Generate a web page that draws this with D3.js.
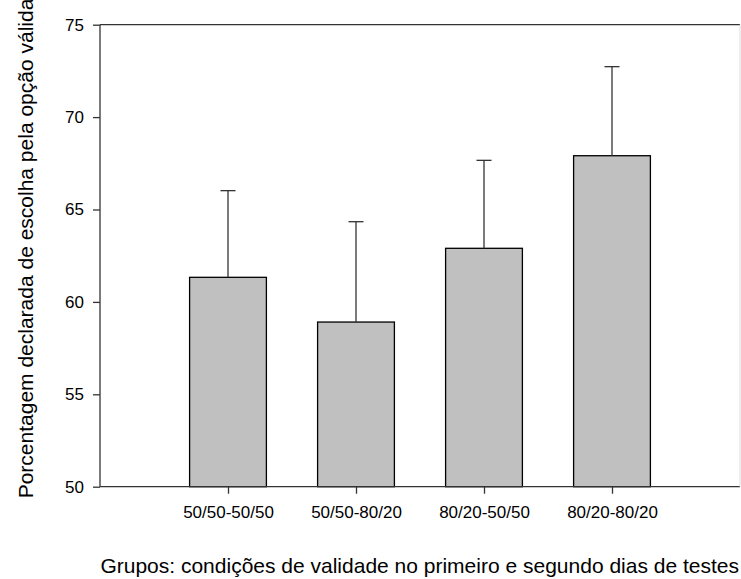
<!DOCTYPE html>
<html><head><meta charset="utf-8">
<script src="https://cdn.jsdelivr.net/npm/d3@7"></script>
<style>body{margin:0;background:#fff}svg{display:block}text{font-family:"Liberation Sans",Arial,sans-serif;fill:#000}</style>
</head><body>
<svg id="c" width="741" height="579"></svg>
<script>
const categories = ["50/50-50/50","50/50-80/20","80/20-50/50","80/20-80/20"];
const means = [61.33, 58.91, 62.90, 67.91];
const errors = [4.69, 5.43, 4.76, 4.82];
const yTicks = [50,55,60,65,70,75];
const xTitle = "Grupos: condições de validade no primeiro e segundo dias de testes";
const yTitle = "Porcentagem declarada de escolha pela opção válida";

const svg = d3.select("#c");
const L=100, R=740, T=24.7, B=486.7;
const x = d3.scaleLinear().domain([0,5]).range([L,R]);
const y = d3.scaleLinear().domain([50,75]).range([B,T]);
const bw = (x(1)-x(0))*0.6;
const lineCol = "#333";

// bars
svg.selectAll("rect.bar").data(means).enter().append("rect")
  .attr("x",(d,i)=>x(i+1)-bw/2).attr("width",bw)
  .attr("y",d=>y(d)).attr("height",d=>y(50)-y(d))
  .attr("fill","#c0c0c0").attr("stroke","#000").attr("stroke-width",1.3);

// error bars
const g = svg.append("g").attr("stroke",lineCol).attr("stroke-width",1.3);
means.forEach((m,i)=>{
  const cx = x(i+1);
  g.append("line").attr("x1",cx).attr("x2",cx).attr("y1",y(m)).attr("y2",y(m+errors[i]));
  g.append("line").attr("x1",cx-7.5).attr("x2",cx+7.5).attr("y1",y(m+errors[i])).attr("y2",y(m+errors[i]));
});

// frame
svg.append("line").attr("x1",L).attr("x2",R).attr("y1",T).attr("y2",T).attr("stroke",lineCol).attr("stroke-width",1.3);
svg.append("line").attr("x1",L).attr("x2",R).attr("y1",B).attr("y2",B).attr("stroke",lineCol).attr("stroke-width",1.3);
svg.append("line").attr("x1",R).attr("x2",R).attr("y1",T).attr("y2",B).attr("stroke","#ddd").attr("stroke-width",1);

// y axis
const ya = svg.append("g").attr("transform",`translate(${L},0)`)
  .call(d3.axisLeft(y).tickValues(yTicks).tickSize(7).tickPadding(9).tickFormat(d3.format("d")));
ya.selectAll("path,line").attr("stroke",lineCol).attr("stroke-width",1.3);
ya.select(".domain").attr("d",`M0,${T}V${B}`);
ya.selectAll("text").attr("font-size",17).attr("font-family","Liberation Sans, Arial, sans-serif").attr("fill","#000");

// x axis
const xa = svg.append("g").attr("transform",`translate(0,${B})`)
  .call(d3.axisBottom(x).tickValues([1,2,3,4]).tickSize(7).tickPadding(12).tickFormat(d=>categories[d-1]));
xa.select(".domain").remove();
xa.selectAll("line").attr("stroke",lineCol).attr("stroke-width",1.3);
xa.selectAll("text").attr("font-size",17).attr("font-family","Liberation Sans, Arial, sans-serif").attr("fill","#000");

// titles
svg.append("text").attr("x",419.7).attr("y",573).attr("text-anchor","middle").attr("font-size",21).text(xTitle);
svg.append("text").attr("transform","translate(32.5,248.5) rotate(-90)").attr("text-anchor","middle").attr("font-size",21).text(yTitle);
</script>
</body></html>
